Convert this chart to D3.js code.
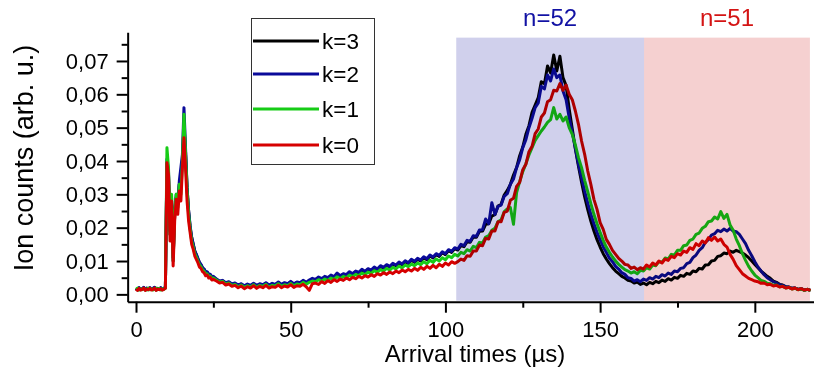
<!DOCTYPE html>
<html><head><meta charset="utf-8">
<script src="https://cdn.jsdelivr.net/npm/d3@7"></script>
<style>
body{margin:0;background:#fff}
svg{display:block}
text{font-family:"Liberation Sans",Arial,Helvetica,sans-serif;fill:#000}
</style>
</head><body>
<svg id="chart" width="814" height="372"></svg>
<script>
// ---------------- DATA ----------------
// arrival times (µs): 0..25 every 0.5 µs, then 26..218 every 1 µs
const times = d3.range(0, 25.25, 0.5).concat(d3.range(26, 219, 1));
const VALUE_UNIT = 1e-3; // values below are in units of 10^-3 (arb. u.)

const k3 = [
 1.7,1.3,1.9,1.4,1.6,2.0,1.3,1.8,1.4,1.9,
 1.5,1.7,2.0,1.3,1.7,1.5,1.9,1.4,1.7,2.1,
 39.5,36,19,28,11,24,29,27,33,34,
 40,51,43,32,25,20,17,15,13,11.8,
 10.6,9.5,8.8,7.9,7.5,6.7,6.6,5.9,5.8,5.2,
 5.2,
 4.5,3.8,4.0,3.3,
 3.6,2.9,3.2,2.6,3.0,2.4,2.9,2.5,3.1,2.5,
 3.0,2.7,3.3,2.6,3.1,2.8,3.5,2.8,3.3,3.0,
 3.7,3.0,3.5,3.3,4.0,3.4,4.1,4.5,4.2,5.0,
 4.4,5.1,4.8,5.5,5.1,5.9,5.4,6.0,5.7,6.5,
 6.0,6.8,6.4,7.2,6.7,7.5,7.1,7.9,7.4,8.3,
 7.9,8.7,8.2,9.0,8.6,9.4,8.9,9.8,9.3,10.2,
 9.6,10.5,10.0,11.0,10.4,11.5,10.9,11.9,11.4,12.5,
 11.9,13.1,12.6,13.7,13.3,14.6,14.3,15.8,15.6,17.2,
 17.1,18.9,19.0,21.0,21.2,23.5,23.9,26.5,27.0,29.8,
 31.2,33.0,35.8,38.0,41.6,44.2,48.0,50.6,54.6,56.8,
 59.0,63.8,63.2,68.5,66.4,71.8,67.0,71.4,65.0,62.6,
 55.6,49.6,43.6,38.4,33.6,29.2,25.4,22.0,19.0,16.4,
 14.2,12.2,10.6,9.2,8.0,7.0,6.2,5.4,4.9,4.2,
 4.0,3.4,3.7,3.0,3.4,2.9,3.6,3.2,3.9,3.5,
 4.3,3.9,4.7,4.3,5.1,4.8,5.7,5.4,6.3,6.0,
 7.0,6.8,7.8,7.6,8.8,8.9,10.0,10.2,11.4,11.6,
 12.4,12.2,13.0,12.6,13.2,12.8,12.4,11.8,11.0,10.0,
 9.0,8.0,7.0,6.2,5.4,4.8,4.0,3.6,3.0,2.8,
 2.3,2.2,1.8,1.9,1.5,1.7,1.3,1.5,1.2
];

const k2 = [
 1.8,1.4,2.0,1.5,1.7,2.1,1.4,1.9,1.5,2.0,
 1.6,1.8,2.1,1.4,1.8,1.6,2.0,1.5,1.8,2.2,
 40.5,37,18,29,10,25,30,27,34,38,
 42,56,44,32,25,20.5,17,15,13,12,
 10.8,9.6,9.0,8.0,7.6,6.8,6.8,6.0,6.0,5.3,
 5.4,
 4.6,4.0,4.2,3.5,
 3.8,3.1,3.4,2.8,3.2,2.6,3.1,2.7,3.3,2.7,
 3.2,2.9,3.5,2.8,3.3,3.0,3.7,3.0,3.5,3.2,
 3.9,3.2,3.7,3.5,4.2,3.6,4.3,4.8,4.5,5.2,
 4.7,5.4,5.0,5.8,5.3,6.4,5.6,6.2,5.9,6.8,
 6.2,7.0,6.6,7.5,6.9,7.7,7.3,8.2,7.6,8.6,
 8.1,8.9,8.4,9.3,8.8,9.7,9.1,10.1,9.5,10.5,
 9.9,10.8,10.3,11.3,10.7,11.8,11.2,12.2,11.7,12.8,
 12.2,13.4,12.9,14.0,13.6,15.0,14.6,16.2,15.9,17.6,
 17.4,19.3,19.4,22.6,21.2,27.5,24.0,26.4,26.8,29.4,
 30.2,33.0,34.6,38.0,40.4,44.0,46.4,50.0,52.8,56.0,
 57.4,62.4,61.6,65.8,64.0,67.6,65.0,65.8,61.0,58.4,
 53.0,48.5,43.8,39.0,35.0,31.0,27.4,24.0,21.2,18.6,
 16.4,14.2,12.6,10.9,9.8,8.4,7.6,6.5,6.0,5.0,
 4.8,4.0,4.4,3.8,4.6,4.2,5.0,4.6,5.4,5.0,
 5.9,5.5,6.4,6.0,7.0,6.8,7.8,8.0,9.2,9.6,
 11.0,11.8,13.2,14.0,15.6,16.4,17.8,18.2,19.2,18.8,
 19.6,19.0,19.8,19.0,18.8,18.0,16.6,15.2,13.2,11.6,
 9.8,8.2,7.0,5.9,5.0,4.4,3.8,3.4,2.9,2.7,
 2.3,2.2,1.8,1.9,1.5,1.7,1.3,1.5,1.2
];

const k1 = [
 1.5,1.9,1.3,1.7,1.4,1.8,1.6,1.3,1.9,1.4,
 1.7,1.3,1.6,1.9,1.4,1.8,1.3,1.7,1.5,1.9,
 44,38,18,30,10,24,30,26,33,30,
 40,54,42,31,24,19.5,16,14.2,12.2,11.2,
 10.0,8.9,8.3,7.4,7.0,6.2,6.2,5.4,5.5,4.8,
 4.9,
 4.3,3.7,3.9,3.1,
 3.4,2.7,3.0,2.3,2.8,2.1,2.6,2.2,2.9,2.1,
 2.7,2.4,3.0,2.2,2.7,2.5,3.2,2.4,2.9,2.6,
 3.3,2.6,3.1,2.9,3.6,3.0,3.6,4.0,3.8,4.4,
 3.9,4.6,4.2,4.9,4.5,5.3,4.7,5.4,5.0,5.8,
 5.3,6.0,5.6,6.4,5.9,6.7,6.3,7.1,6.6,7.4,
 7.0,7.8,7.3,8.1,7.6,8.5,7.9,8.8,8.3,9.1,
 8.6,9.4,8.9,9.8,9.2,10.2,9.6,10.6,10.0,11.0,
 10.4,11.5,11.0,12.0,11.5,12.6,12.2,13.4,13.0,14.4,
 14.0,15.6,15.4,17.2,17.6,19.2,19.8,21.8,22.4,24.8,
 25.6,26.0,21.0,30.5,33.8,36.8,39.2,41.8,44.0,46.2,
 47.6,49.0,50.2,51.6,52.4,56.0,52.6,54.0,52.0,53.2,
 50.0,48.0,44.8,41.0,38.0,34.2,30.8,27.2,24.0,21.2,
 18.6,16.2,14.2,12.6,11.2,10.0,9.0,8.2,7.4,7.0,
 6.4,6.8,6.2,7.2,7.0,8.0,7.6,8.8,8.6,9.8,
 9.6,10.9,10.6,12.0,11.8,13.2,13.2,14.6,14.8,16.2,
 16.6,18.0,18.4,19.8,20.4,21.8,22.0,23.2,22.6,24.8,
 22.8,24.0,20.8,19.2,16.6,14.6,12.2,10.2,8.4,7.0,
 5.8,5.0,4.2,3.9,3.3,3.2,2.7,2.8,2.3,2.4,
 1.9,2.1,1.6,1.8,1.4,1.6,1.2,1.5,1.1
];

const k0 = [
 1.6,1.2,1.8,1.3,1.5,1.9,1.2,1.6,1.4,1.8,
 1.3,1.5,1.9,1.2,1.6,1.4,1.7,1.3,1.5,1.8,
 39.5,36,16,28,8.5,22,28.5,24,31,28,
 38,47,38,28,22,18.5,15,13.5,11.5,10.5,
 9.5,8.2,7.8,6.8,6.5,5.6,5.8,4.9,5.1,4.3,
 4.5,
 4.0,3.4,3.6,2.8,
 3.1,2.4,2.7,2.0,2.5,1.7,2.3,1.9,2.6,1.8,
 2.4,2.0,2.7,1.9,2.3,2.1,2.8,2.0,2.5,2.2,
 2.9,2.1,2.6,2.4,3.0,2.3,1.2,3.2,3.4,3.0,
 3.8,3.3,4.1,3.6,4.4,3.9,4.6,4.2,4.9,4.4,
 5.1,4.7,5.4,4.9,5.6,5.2,5.9,5.4,6.2,5.8,
 6.5,6.0,6.7,6.2,7.0,6.5,7.3,6.8,7.5,7.0,
 7.8,7.2,8.1,7.5,8.4,7.8,8.7,8.0,9.0,8.4,
 9.4,8.8,9.8,9.3,9.8,10.6,10.2,11.6,11.4,13.0,
 13.0,14.8,14.6,16.8,16.6,19.0,19.0,21.8,21.8,24.6,
 25.0,28.2,28.8,32.4,33.6,37.4,39.0,42.8,44.4,48.2,
 49.6,53.2,54.4,57.8,58.4,61.2,61.0,63.2,61.2,62.8,
 60.0,58.4,55.0,51.0,46.0,42.0,37.0,33.0,28.5,25.5,
 21.5,19.5,16.5,15.0,13.2,12.0,10.8,10.0,9.0,8.8,
 7.8,8.2,7.4,8.0,7.6,8.8,8.2,9.4,8.8,10.0,
 9.4,10.6,10.2,11.4,11.0,12.2,11.8,13.0,12.6,14.0,
 13.5,15.2,14.6,16.0,15.4,17.0,16.2,17.2,16.0,16.6,
 15.0,14.2,12.0,10.5,8.6,7.4,6.2,5.5,4.8,4.4,
 4.0,3.8,3.3,3.4,2.9,3.0,2.5,2.7,2.2,2.4,
 1.9,2.1,1.6,1.9,1.4,1.7,1.3,1.5,1.2
];

const seriesNames = ["k=3", "k=2", "k=1", "k=0"];
const seriesValues = [k3, k2, k1, k0];
const regionLabels = ["n=52", "n=51"];
const regionBounds = [[103.5, 164.2], [164.2, 217.8]];
const xMajorTicks = [0, 50, 100, 150, 200];
const xMinorTicks = [25, 75, 125, 175];
const yMajorTicks = [0, 0.01, 0.02, 0.03, 0.04, 0.05, 0.06, 0.07];
const yMinorTicks = [0.005, 0.015, 0.025, 0.035, 0.045, 0.055, 0.065, 0.075];
const xTitle = "Arrival times (µs)";
const yTitle = "Ion counts (arb. u.)";

// ---------------- STYLE ----------------
const seriesColors = ["#000000", "#0a0a9a", "#16cc16", "#d60000"];
const regionFills = ["#d0d0ec", "#f5d0d0"];
const regionTextColors = ["#1212a4", "#d41414"];

// ---------------- CHART ----------------
const svg = d3.select("#chart");
const x = d3.scaleLinear().domain([-2.7, 222]).range([127.65, 822.9]);
const y = d3.scaleLinear().domain([-0.0022, 0.0786]).range([301.7, 32.3]);
const yTop = 0.0770;

const line = d3.line()
  .x((d, i) => x(times[i]))
  .y(d => y(d * VALUE_UNIT));

svg.append("g").selectAll("path").data(seriesValues).join("path")
  .attr("d", d => line(d))
  .attr("fill", "none")
  .attr("stroke", (d, i) => seriesColors[i])
  .attr("stroke-width", 3)
  .attr("stroke-linejoin", "round");

svg.append("g").selectAll("rect").data(regionBounds).join("rect")
  .attr("x", d => x(d[0]))
  .attr("width", d => x(d[1]) - x(d[0]))
  .attr("y", y(yTop))
  .attr("height", y(-0.0022) - y(yTop) - 1)
  .attr("fill", (d, i) => regionFills[i])
  .style("mix-blend-mode", "multiply");

svg.append("g").selectAll("text").data(regionLabels).join("text")
  .attr("x", (d, i) => (x(regionBounds[i][0]) + x(regionBounds[i][1])) / 2)
  .attr("y", 26)
  .attr("text-anchor", "middle")
  .attr("font-size", 24)
  .style("fill", (d, i) => regionTextColors[i])
  .text(d => d);

const fmt = d => d3.format(".2f")(d).replace(".", ",");

// X axis
const gx = svg.append("g").attr("transform", `translate(0,${y.range()[0]})`);
gx.call(d3.axisBottom(x).tickValues(xMajorTicks).tickSize(11).tickSizeOuter(0).tickPadding(9).tickFormat(d3.format("d")));
gx.append("g").call(d3.axisBottom(x).tickValues(xMinorTicks).tickSize(6).tickSizeOuter(0).tickFormat(""))
  .select(".domain").remove();
// Y axis
const gy = svg.append("g").attr("transform", `translate(${x.range()[0]},0)`);
gy.call(d3.axisLeft(y).tickValues(yMajorTicks).tickSize(11).tickSizeOuter(0).tickPadding(8).tickFormat(fmt));
gy.append("g").call(d3.axisLeft(y).tickValues(yMinorTicks).tickSize(6).tickSizeOuter(0).tickFormat(""))
  .select(".domain").remove();

svg.selectAll(".domain").attr("stroke", "#000").attr("stroke-width", 2);
svg.selectAll(".tick line").attr("stroke", "#000").attr("stroke-width", 2);
svg.selectAll(".tick text").attr("font-size", 22).attr("font-family", null).style("fill", "#000");

// Titles
svg.append("text").attr("x", 475).attr("y", 362).attr("text-anchor", "middle")
  .attr("font-size", 24).text(xTitle);
svg.append("text").attr("transform", "translate(33,158) rotate(-90)").attr("text-anchor", "middle")
  .attr("font-size", 27).text(yTitle);

// Legend
const lg = svg.append("g");
lg.append("rect").attr("x", 251.5).attr("y", 18.5).attr("width", 123).attr("height", 146)
  .attr("fill", "#fff").attr("stroke", "#333").attr("stroke-width", 1);
const legendY = [41, 74, 109, 145];
const items = lg.selectAll("g").data(seriesNames).join("g")
  .attr("transform", (d, i) => `translate(0,${legendY[i]})`);
items.append("line").attr("x1", 253).attr("x2", 319)
  .attr("stroke", (d, i) => seriesColors[i]).attr("stroke-width", 3);
items.append("text").attr("x", 322).attr("y", 8).attr("font-size", 22.5).text(d => d);
</script>
</body></html>
